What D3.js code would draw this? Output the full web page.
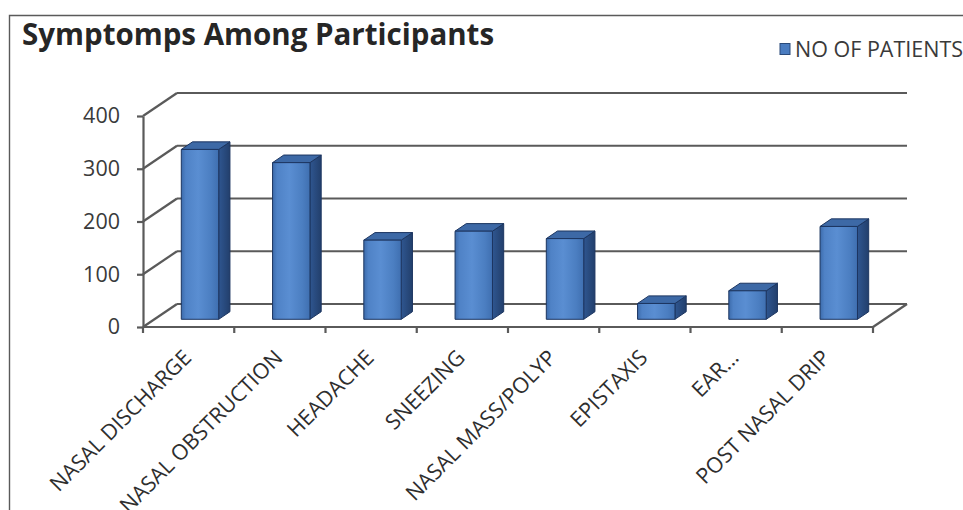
<!DOCTYPE html>
<html>
<head>
<meta charset="utf-8">
<script src="https://cdn.jsdelivr.net/npm/d3@7/dist/d3.min.js"></script>
<style>
  html, body { margin: 0; padding: 0; background: #ffffff; }
  svg { display: block; }
</style>
</head>
<body>
<script>
// Chart content
const chartTitle = "Symptomps Among Participants";
const seriesName = "NO OF PATIENTS";
const categories = ["NASAL DISCHARGE", "NASAL OBSTRUCTION", "HEADACHE", "SNEEZING",
                    "NASAL MASS/POLYP", "EPISTAXIS", "EAR...", "POST NASAL DRIP"];
const patients = [322, 297, 150, 167, 153, 30, 54, 176];
const yTicks = [0, 100, 200, 300, 400];

const W = 963, H = 510;
const svg = d3.select("body").append("svg").attr("width", W).attr("height", H);

// 3D projection: depth offset of the back wall
const DX = 34, DY = 23;
const z0 = 0.335, z1 = 0.665;           // bar front / back depth fraction
const barFrac = 0.41;

const x = d3.scaleBand().domain(categories).range([143, 873]).padding(0);
const y = d3.scaleLinear().domain([0, 400]).range([327, 116]);
const bw = x.bandwidth();

// gradients for the bar faces
const defs = svg.append("defs");
const gFront = defs.append("linearGradient").attr("id", "front").attr("x1", 0).attr("x2", 1).attr("y1", 0).attr("y2", 0);
[[0, "#3c6bab"], [0.12, "#4f82c6"], [0.45, "#5a8ed2"], [0.8, "#4b7ec1"], [1, "#3f6fb0"]]
  .forEach(([o, c]) => gFront.append("stop").attr("offset", o).attr("stop-color", c));
const gSide = defs.append("linearGradient").attr("id", "side").attr("x1", 0).attr("x2", 1).attr("y1", 0).attr("y2", 0);
[[0, "#2f5690"], [1, "#223f6c"]].forEach(([o, c]) => gSide.append("stop").attr("offset", o).attr("stop-color", c));

// chart frame
svg.append("path").attr("d", `M9.5,${H} V15.5 H${W}`)
  .attr("fill", "none").attr("stroke", "#5a5a5a").attr("stroke-width", 1.4);

// title
svg.append("text").attr("x", 22).attr("y", 45)
  .attr("font-family", "'Open Sans', sans-serif").attr("font-weight", 700)
  .attr("font-size", 29.5).attr("fill", "#262626").text(chartTitle);

// legend
const legend = svg.append("g");
legend.append("rect").attr("x", 780).attr("y", 43.5).attr("width", 10).attr("height", 11)
  .attr("fill", "#4a7cc0").attr("stroke", "#2a4a7a").attr("stroke-width", 1);
legend.append("text").attr("x", 795).attr("y", 57)
  .attr("font-family", "'Open Sans', sans-serif").attr("font-size", 21.5)
  .attr("fill", "#3a3a3a").text(seriesName);

const grid = svg.append("g").attr("stroke", "#5a5a5a").attr("stroke-width", 2.2).attr("fill", "none");
const x0 = x.range()[0], x1 = x.range()[1];

// side wall diagonals and back wall gridlines
yTicks.forEach(t => {
  grid.append("line").attr("x1", x0).attr("y1", y(t)).attr("x2", x0 + DX).attr("y2", y(t) - DY);
  grid.append("line").attr("x1", x0 + DX).attr("y1", y(t) - DY).attr("x2", x1 + DX).attr("y2", y(t) - DY);
});
// floor right edge
grid.append("line").attr("x1", x1).attr("y1", y(0)).attr("x2", x1 + DX).attr("y2", y(0) - DY);

// bars
const barW = bw * barFrac;
const ddx = (z1 - z0) * DX, ddy = (z1 - z0) * DY;
const bars = svg.append("g");
categories.forEach((c, i) => {
  const v = patients[i];
  const xl = x(c) + (bw - barW) / 2 + z0 * DX;
  const xr = xl + barW;
  const yb = y(0) - z0 * DY;
  const yt = y(v) - z0 * DY;
  const g = bars.append("g").attr("stroke", "#1c3560").attr("stroke-width", 1).attr("stroke-linejoin", "round");
  g.append("path").attr("d", `M${xr},${yt} L${xr + ddx},${yt - ddy} L${xr + ddx},${yb - ddy} L${xr},${yb} Z`)
    .attr("fill", "url(#side)");
  g.append("path").attr("d", `M${xl},${yt} L${xl + ddx},${yt - ddy} L${xr + ddx},${yt - ddy} L${xr},${yt} Z`)
    .attr("fill", "#3d69a6");
  g.append("rect").attr("x", xl).attr("y", yt).attr("width", barW).attr("height", yb - yt)
    .attr("fill", "url(#front)");
});

// value axis on the front edge
const yAxis = svg.append("g").attr("transform", `translate(${x0},0)`)
  .call(d3.axisLeft(y).tickValues(yTicks).tickSize(6).tickSizeOuter(0).tickPadding(17));
yAxis.select(".domain").attr("stroke", "#5a5a5a").attr("stroke-width", 2.2);
yAxis.selectAll(".tick line").attr("stroke", "#5a5a5a").attr("stroke-width", 2.2);
yAxis.selectAll(".tick text").attr("font-family", "'Open Sans', sans-serif")
  .attr("font-size", 21.5).attr("fill", "#3a3a3a");

// category axis: base line and boundary ticks
const cAxis = svg.append("g").attr("stroke", "#5a5a5a").attr("stroke-width", 2.2);
cAxis.append("line").attr("x1", x0).attr("y1", y(0)).attr("x2", x1).attr("y2", y(0));
d3.range(categories.length + 1).forEach(k => {
  const xt = x0 + k * bw;
  cAxis.append("line").attr("x1", xt).attr("y1", y(0)).attr("x2", xt).attr("y2", y(0) + 6);
});

// rotated category labels
svg.append("g").selectAll("text").data(categories).join("text")
  .attr("transform", d => `translate(${x(d) + bw / 2 + 4},359) rotate(-45)`)
  .attr("text-anchor", "end")
  .attr("font-family", "'Open Sans', sans-serif").attr("font-size", 21.5)
  .attr("fill", "#2e2e2e").text(d => d);
</script>
</body>
</html>
